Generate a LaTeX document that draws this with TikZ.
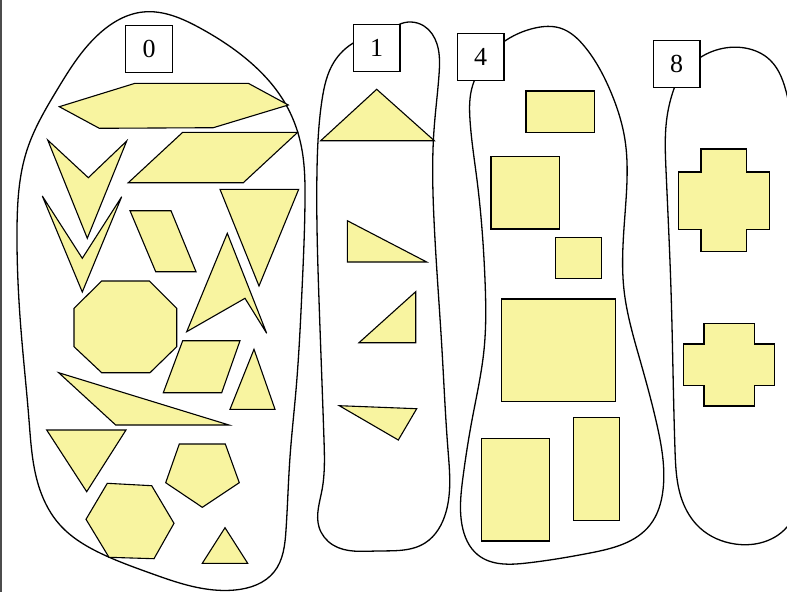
\documentclass[tikz,border=0pt]{standalone}
\usepackage{fontspec}
\setmainfont{Liberation Serif}
\usetikzlibrary{hobby}
\definecolor{shy}{HTML}{F8F4A0}
\begin{document}
\begin{tikzpicture}[x=1pt,y=-1pt,
  shp/.style={draw=black, fill=shy, line width=1.1pt, line join=miter},
  blob/.style={draw=black, line width=1.3pt, use Hobby shortcut},
  lbl/.style={draw=black, fill=white, line width=1.2pt, inner sep=0pt,
    minimum width=46.7pt, minimum height=47pt, font=\fontsize{26}{26}\selectfont}]
\useasboundingbox (0,0) rectangle (787,592);
\draw[black!70, line width=1.7pt] (0.9,0) -- (0.9,592);
\begin{scope}
\clip (0,0) rectangle (787,592);
% blob 0
\draw[blob, closed=true] (143,12) .. (200,28) .. (250,62) .. (285,103) .. (302,150)
 .. (305,200) .. (302,290) .. (296,390) .. (290,457) .. (286,530) .. (274,572)
 .. (235,590) .. (200,588) .. (150,573) .. (100,553) .. (60,525) .. (40,490)
 .. (29,420) .. (21,330) .. (17,230) .. (27,150) .. (57,90) .. (100,33);
% blob 1
\draw[blob] (398,25) .. (424,26) .. (437,44) .. (439,75) .. (434,130) .. (434,220)
 .. (442,350) .. (448,450) .. (446,512) .. (425,543) .. (377,551) .. (333,545)
 .. (319,527) .. (322,490) .. (324,440) .. (319,300) .. (317,170) .. (322,100)
 .. (334,62) .. (355,42);
% blob 4
\draw[blob] (502,43) .. (535,28) .. (560,28) .. (585,47) .. (610,90) .. (625,140)
 .. (626,200) .. (624,290) .. (640,360) .. (657,425) .. (663,490) .. (650,525)
 .. (590,553) .. (527,563) .. (478,555) .. (462,525) .. (463,477) .. (472,420)
 .. (484,350) .. (485,280) .. (477,180) .. (470,120) .. (471,92) .. (475,79);
% blob 8
\draw[blob] (698,59) .. (720,49) .. (745,48) .. (770,60) .. (787,95) .. (797,200)
 .. (797,450) .. (787,527) .. (760,543) .. (735,544) .. (700,528) .. (682,500)
 .. (675,450) .. (671,290) .. (666,170) .. (667,117) .. (675,86);
\end{scope}
% shapes in 0
\draw[shp] (59.3,106.7) -- (135,83.3) -- (248.3,83.3) -- (288.3,105) -- (213.3,127.7) -- (99.3,128.3) -- cycle;
\draw[shp] (128.3,182.7) -- (182.7,132.3) -- (297.7,132.3) -- (243.3,182.7) -- cycle;
\draw[shp] (47.7,140) -- (88.3,177.7) -- (126.7,141) -- (87.3,238.3) -- cycle;
\draw[shp] (42.3,196) -- (82.3,258.3) -- (121.7,196.7) -- (82.3,292) -- cycle;
\draw[shp] (130,210.7) -- (171,210.7) -- (196,271.7) -- (155.7,271.7) -- cycle;
\draw[shp] (220,189.3) -- (298.7,189.3) -- (259,286) -- cycle;
\draw[shp] (227.3,233.3) -- (266.7,333.3) -- (245,298.3) -- (186.7,331.7) -- cycle;
\draw[shp] (101.7,281) -- (149.3,281) -- (176.7,308.3) -- (176.7,346.7) -- (150,372.7) -- (101.7,372.7) -- (74,346.7) -- (74,308.3) -- cycle;
\draw[shp] (182.7,340.7) -- (240,340.7) -- (221.7,392.7) -- (163.3,392.7) -- cycle;
\draw[shp] (254,349.3) -- (275,409.3) -- (230,409.3) -- cycle;
\draw[shp] (58.7,372.7) -- (229,425) -- (115.7,425) -- cycle;
\draw[shp] (46.7,430) -- (126,430) -- (86.7,491.7) -- cycle;
\draw[shp] (179.3,444) -- (225.3,444) -- (239.3,482.7) -- (202.3,507.3) -- (165.7,482.7) -- cycle;
\draw[shp] (107.3,483.3) -- (151.7,485.7) -- (174,523.3) -- (154,558.7) -- (109,557.3) -- (86,519.3) -- cycle;
\draw[shp] (225,527.7) -- (247.7,563.3) -- (202.3,563.3) -- cycle;
% shapes in 1
\draw[shp] (320.7,140.7) -- (376.7,89.3) -- (434.3,140.7) -- cycle;
\draw[shp] (347.3,220.7) -- (347.3,262) -- (426.7,262) -- cycle;
\draw[shp] (415.7,291.7) -- (415.7,342.7) -- (359,342.7) -- cycle;
\draw[shp] (339.3,405.7) -- (416.7,408.7) -- (398.3,440) -- cycle;
% shapes in 4
\draw[shp] (526,91) rectangle (594.3,132.7);
\draw[shp] (491,156.7) rectangle (559.3,229);
\draw[shp] (555.7,237.7) rectangle (601.7,278.7);
\draw[shp] (501.7,299) rectangle (615.7,401.7);
\draw[shp] (481.3,438.3) rectangle (549.7,541);
\draw[shp] (573.7,417.7) rectangle (619.3,520.3);
% shapes in 8
\draw[shp] (701,149) -- (746.7,149) -- (746.7,172) -- (769.3,172) -- (769.3,229.3) -- (746.7,229.3) -- (746.7,251.7) -- (701,251.7) -- (701,229.3) -- (678.3,229.3) -- (678.3,172) -- (701,172) -- cycle;
\draw[shp] (704,323.7) -- (754.3,323.7) -- (754.3,344) -- (774.7,344) -- (774.7,385.7) -- (754.3,385.7) -- (754.3,406) -- (704,406) -- (704,385.7) -- (683.3,385.7) -- (683.3,344) -- (704,344) -- cycle;
% labels
\node[lbl] (b0) at (149,48.7) {0};
\node[lbl] (b1) at (376.7,48.3) {1};
\node[lbl] (b4) at (480.7,57.2) {4};
\node[lbl] (b8) at (676.7,64.2) {8};
\end{tikzpicture}
\end{document}
